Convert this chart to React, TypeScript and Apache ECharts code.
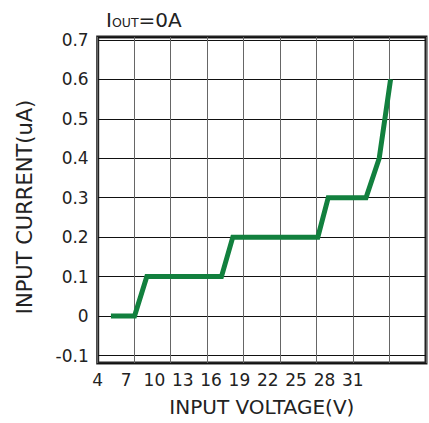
import React, { useEffect, useRef } from 'react';
import * as echarts from 'echarts';

// Data
const inputVoltage = [5.4, 7.9, 9.2, 17.1, 18.3, 27.3, 28.4, 32.4, 33.8, 35.0];
const inputCurrent = [0, 0, 0.1, 0.1, 0.2, 0.2, 0.3, 0.3, 0.4, 0.6];
const xTickLabels = ['4', '7', '10', '13', '16', '19', '22', '25', '28', '31'];
const yTickLabels = ['-0.1', '0', '0.1', '0.2', '0.3', '0.4', '0.5', '0.6', '0.7'];

const FONT = 'DejaVu Sans';
const TEXT = '#222';

export default function App() {
  const ref = useRef<HTMLDivElement>(null);

  useEffect(() => {
    if (!ref.current) return;
    const chart = echarts.init(ref.current, undefined, { renderer: 'svg' });
    const points = inputVoltage.map((v, i) => [v, inputCurrent[i]]);
    const fmtY = (v: number) => {
      const s = String(Math.round(v * 1000) / 1000);
      return yTickLabels.includes(s) ? s : '';
    };
    const fmtX = (v: number) => {
      const s = String(Math.round(v * 1000) / 1000);
      return xTickLabels.includes(s) ? s : '';
    };
    chart.setOption({
      animation: false,
      backgroundColor: '#fff',
      title: {
        text: '{a|I}{b|OUT}{a|=0A}',
        left: 101,
        top: 4,
        textStyle: {
          fontWeight: 'normal',
          rich: {
            a: { fontFamily: FONT, fontSize: 20, fontWeight: 'normal', color: TEXT, lineHeight: 22 },
            b: { fontFamily: FONT, fontSize: 12.5, fontWeight: 'normal', color: TEXT, lineHeight: 13, verticalAlign: 'bottom', padding: [0, 0, 2, 0] },
          },
        },
      },
      grid: {
        left: 97.7,
        right: 2,
        top: 37,
        bottom: 60,
        show: true,
        borderColor: '#222',
        borderWidth: 3,
        backgroundColor: 'transparent',
      },
      xAxis: [
        {
          type: 'value',
          min: 4,
          max: 38.75,
          interval: 3,
          axisLine: { show: false },
          axisTick: { show: false },
          splitLine: { show: false },
          axisLabel: {
            formatter: fmtX,
            fontFamily: FONT,
            fontSize: 17,
            color: TEXT,
            margin: 8,
          },
          name: 'INPUT VOLTAGE(V)',
          nameLocation: 'middle',
          nameGap: 34,
          nameTextStyle: { fontFamily: FONT, fontSize: 20, color: TEXT },
        },
        {
          type: 'value',
          position: 'top',
          min: 0,
          max: 9,
          interval: 1,
          axisLine: { show: false },
          axisTick: { show: false },
          axisLabel: { show: false },
          splitLine: { show: true, lineStyle: { color: '#666', width: 1 } },
        },
      ],
      yAxis: {
        type: 'value',
        min: -0.119,
        max: 0.7072,
        splitNumber: 8,
        axisLine: { show: false },
        axisTick: { show: false },
        splitLine: { show: true, lineStyle: { color: '#111', width: 1 } },
        axisLabel: {
          formatter: fmtY,
          fontFamily: FONT,
          fontSize: 17,
          color: TEXT,
          margin: 9,
          showMinLabel: true,
          showMaxLabel: true,
        },
        name: 'INPUT CURRENT(uA)',
        nameLocation: 'middle',
        nameRotate: 90,
        nameGap: 62,
        nameTextStyle: { fontFamily: FONT, fontSize: 21, color: TEXT, padding: [0, 14, 0, 0] },
      },
      series: [
        {
          type: 'line',
          xAxisIndex: 0,
          yAxisIndex: 0,
          data: points,
          symbol: 'none',
          lineStyle: { color: '#12803e', width: 5, cap: 'butt', join: 'miter' },
        },
      ],
    });
    return () => chart.dispose();
  }, []);

  return (
    <div
      ref={ref}
      style={{ position: 'absolute', left: 0, top: 0, width: 429, height: 423 }}
    />
  );
}
